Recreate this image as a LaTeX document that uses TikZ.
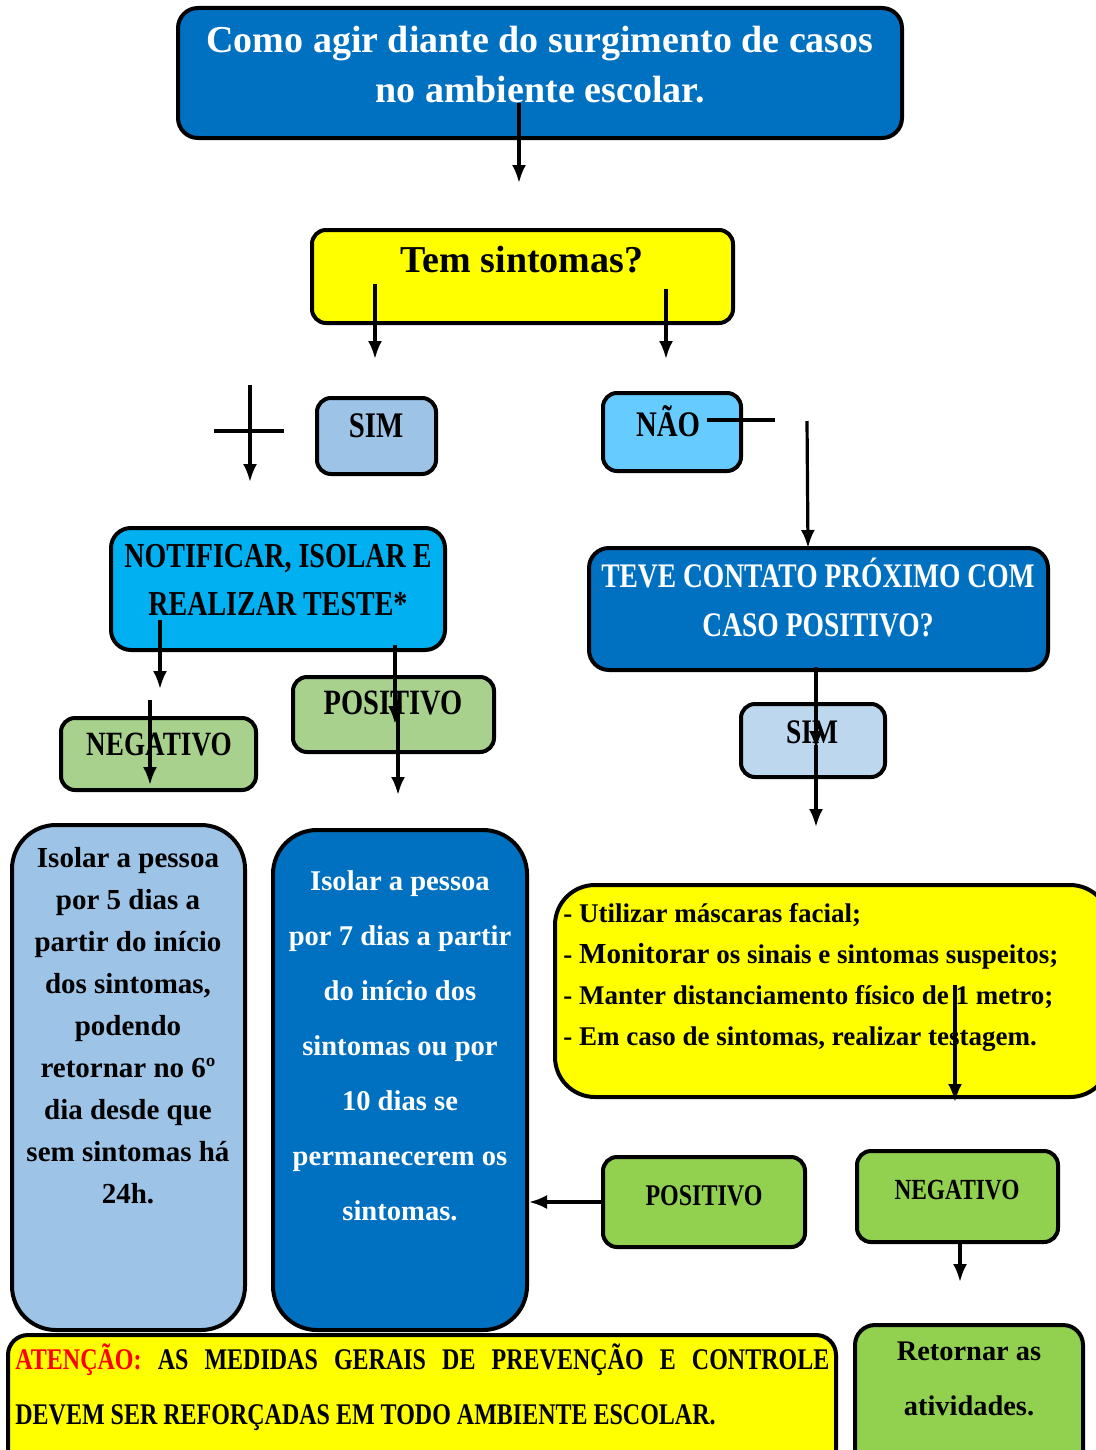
\documentclass[tikz,border=0pt]{standalone}
\usepackage{fontspec}
\setmainfont{Liberation Serif}
\newfontfamily\estreita{Liberation Serif}[FakeStretch=0.8]
\usepackage{xcolor}
\usetikzlibrary{positioning, fit, arrows.meta}

\definecolor{azulescuro}{HTML}{0070C0}
\definecolor{azulclaro}{HTML}{9DC3E6}
\definecolor{azulceu}{HTML}{66CCFF}
\definecolor{ciano}{HTML}{00B0F0}
\definecolor{azulpalido}{HTML}{BDD7EE}
\definecolor{verdeclaro}{HTML}{A9D18E}
\definecolor{verde}{HTML}{92D050}
\definecolor{amarelo}{HTML}{FFFF00}

\tikzset{
  caixa/.style={draw, line width=2pt, rounded corners=7pt, inner sep=0pt},
  txt/.style={inner sep=0pt, align=center, anchor=north},
  seta/.style={line width=1.6pt, -{Latex[length=9pt,width=7pt]}},
  traco/.style={line width=1.6pt}
}

\begin{document}
\begin{tikzpicture}[x=0.5pt, y=-0.5pt]
\useasboundingbox (0,0) rectangle (1096,1450);
\clip (0,0) rectangle (1096,1450);

% caixas
\node[caixa, fill=azulescuro, rounded corners=10pt, fit={(178,8) (902,138)}] (titulo) {};
\node[caixa, fill=amarelo, fit={(312,230) (733,323)}] (sintomas) {};
\node[caixa, fill=azulclaro, fit={(317,398) (436,474)}] (sim1) {};
\node[caixa, fill=azulceu, fit={(603,393) (741,471)}] (nao) {};
\node[caixa, fill=ciano, rounded corners=10pt, fit={(111,528) (445,650)}] (notificar) {};
\node[caixa, fill=azulescuro, rounded corners=10pt, fit={(589,548) (1048,670)}] (contato) {};
\node[caixa, fill=verdeclaro, fit={(293,677) (494,752)}] (pos1) {};
\node[caixa, fill=verdeclaro, fit={(61,718) (256,790)}] (neg1) {};
\node[caixa, fill=azulpalido, fit={(741,704) (885,777)}] (sim2) {};
\node[caixa, fill=azulclaro, rounded corners=22pt, fit={(12,825) (245,1330)}] (isolar5) {};
\node[caixa, fill=azulescuro, rounded corners=22pt, fit={(273,830) (527,1330)}] (isolar7) {};
\node[caixa, fill=amarelo, rounded corners=20pt, fit={(555,885) (1110,1097)}] (medidas) {};
\node[caixa, fill=verde, fit={(603,1157) (805,1247)}] (pos2) {};
\node[caixa, fill=verde, fit={(857,1151) (1058,1242)}] (neg2) {};
\node[caixa, fill=verde, rounded corners=10pt, fit={(855,1325) (1083,1480)}] (retornar) {};
\node[caixa, fill=amarelo, rounded corners=10pt, fit={(8,1335) (836,1480)}] (atencao) {};

% textos
\node[txt, text=white, font=\bfseries\fontsize{19}{25}\selectfont] (titulo-txt) at (540,26)
  {Como agir diante do surgimento de casos\\no ambiente escolar.};
\node[txt, font=\bfseries\fontsize{19}{23}\selectfont] (sintomas-txt) at (522,246) {Tem sintomas?};
\node[txt, font=\estreita\bfseries\fontsize{18}{22}\selectfont] (sim1-txt) at (376,413) {SIM};
\node[txt, font=\estreita\bfseries\fontsize{18}{22}\selectfont] (nao-txt) at (668,405) {NÃO};
\node[txt, font=\estreita\bfseries\fontsize{17.5}{24}\selectfont] (notificar-txt) at (278,544)
  {NOTIFICAR, ISOLAR E\\REALIZAR TESTE*};
\node[txt, text=white, font=\estreita\bfseries\fontsize{17.2}{24.5}\selectfont] (contato-txt) at (818,558)
  {TEVE CONTATO PRÓXIMO COM\\CASO POSITIVO?};
\node[txt, font=\estreita\bfseries\fontsize{17.8}{22}\selectfont] (pos1-txt) at (393,691) {POSITIVO};
\node[txt, font=\estreita\bfseries\fontsize{17}{22}\selectfont] (neg1-txt) at (159,733) {NEGATIVO};
\node[txt, font=\estreita\bfseries\fontsize{17.2}{22}\selectfont] (sim2-txt) at (812,720) {SIM};
\node[txt, font=\bfseries\fontsize{14.5}{21}\selectfont] (isolar5-txt) at (128,847)
  {Isolar a pessoa\\por 5 dias a\\partir do início\\dos sintomas,\\podendo\\retornar no 6º\\dia desde que\\sem sintomas há\\24h.};
\node[txt, text=white, font=\bfseries\fontsize{14.3}{27.5}\selectfont] (isolar7-txt) at (400,870)
  {Isolar a pessoa\\por 7 dias a partir\\do início dos\\sintomas ou por\\10 dias se\\permanecerem os\\sintomas.};
\node[txt, anchor=north west, align=left, font=\bfseries\fontsize{13.5}{20.5}\selectfont] (medidas-txt) at (563,903)
  {- Utilizar máscaras facial;\\- {\fontsize{14.5}{20.5}\selectfont Monitorar} os sinais e sintomas suspeitos;\\- Manter distanciamento físico de 1 metro;\\- Em caso de sintomas, realizar testagem.};
\node[txt, font=\estreita\bfseries\fontsize{15}{22}\selectfont] (pos2-txt) at (704,1185) {POSITIVO};
\node[txt, font=\estreita\bfseries\fontsize{14.6}{22}\selectfont] (neg2-txt) at (957,1180) {NEGATIVO};
\node[txt, font=\bfseries\fontsize{14.2}{27.5}\selectfont] (retornar-txt) at (969,1341)
  {Retornar as\\atividades.};
\node[txt, anchor=north west, align=left, font=\estreita\bfseries\fontsize{15}{27.5}\selectfont] (atencao-txt) at (15,1343)
  {\makebox[407pt][s]{\textcolor{red}{ATENÇÃO:} AS MEDIDAS GERAIS DE PREVENÇÃO E CONTROLE}\\DEVEM SER REFORÇADAS EM TODO AMBIENTE ESCOLAR.};

% pontas soltas das setas
\coordinate (t1) at (519,103);  \coordinate (p1) at (519,183);
\coordinate (t2) at (375,284);  \coordinate (p2) at (375,359);
\coordinate (t3) at (666,289);  \coordinate (p3) at (666,359);
\coordinate (h1) at (214,431);  \coordinate (h2) at (284,431);
\coordinate (t4) at (250,385);  \coordinate (p4) at (250,482);
\coordinate (h3) at (707,420);  \coordinate (h4) at (775,420);
\coordinate (t5) at (807,421);  \coordinate (p5) at (808,548);
\coordinate (t6) at (160,620);  \coordinate (p6) at (160,689);
\coordinate (t7) at (150,700);  \coordinate (p7) at (150,785);
\coordinate (t8) at (395,645);  \coordinate (p8) at (395,724);
\coordinate (t9) at (398,700);  \coordinate (p9) at (398,795);
\coordinate (t10) at (816,667); \coordinate (p10) at (816,749);
\coordinate (t11) at (816,745); \coordinate (p11) at (816,827);
\coordinate (t12) at (955,985); \coordinate (p12) at (955,1102);
\coordinate (p13) at (960,1282);

% setas
\draw[seta] (t1) -- (p1);
\draw[seta] (t2) -- (p2);
\draw[seta] (t3) -- (p3);
\draw[traco] (h1) -- (h2);
\draw[seta] (t4) -- (p4);
\draw[traco] (h3) -- (h4);
\draw[seta] (t5) -- (p5);
\draw[seta] (t6) -- (p6);
\draw[seta] (t7) -- (p7);
\draw[seta] (t8) -- (p8);
\draw[seta] (t9) -- (p9);
\draw[seta] (t10) -- (p10);
\draw[seta] (t11) -- (p11);
\draw[seta] (t12) -- (p12);
\draw[seta] (pos2.west) -- (isolar7.east |- pos2.west);
\draw[seta] (neg2.south -| p13) -- (p13);
\end{tikzpicture}
\end{document}
